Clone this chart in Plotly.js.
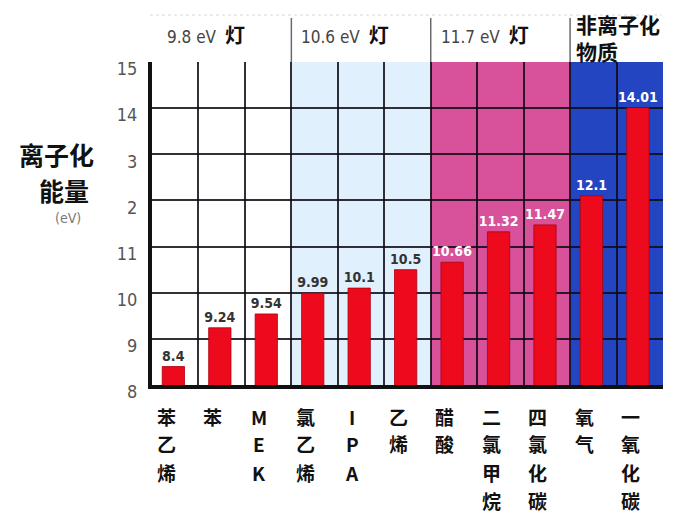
<!DOCTYPE html>
<html>
<head>
<meta charset="utf-8">
<script src="https://cdn.plot.ly/plotly-3.0.1.min.js"></script>
<style>html,body{margin:0;padding:0;background:#fff;}#chart{width:677px;height:515px;}</style>
</head>
<body>
<div id="chart"></div>
<script>
// ---- data ----
const categories = ["苯乙烯", "苯", "MEK", "氯乙烯", "IPA", "乙烯", "醋酸", "二氯甲烷", "四氯化碳", "氧气", "一氧化碳"];
const energies = [8.4, 9.24, 9.54, 9.99, 10.1, 10.5, 10.66, 11.32, 11.47, 12.1, 14.01];
const tickValues = [8, 9, 10, 11, 12, 13, 14, 15];
const tickLabels = ["8", "9", "10", "11", "2", "3", "14", "15"];
const groupLabels = ["9.8 eV", "10.6 eV", "11.7 eV"];
const groupSuffix = "灯";
const groupStart = [0, 3, 6];      // first category index of each lamp group
const groupEnd = [2, 5, 8];        // last category index of each lamp group
const nonIonLabel = ["非离子化", "物质"];
const nonIonStart = 9;
const yTitleLines = ["离子化", "能量"];
const yUnit = "(eV)";

// ---- styling ----
const groupFill = ["#ffffff", "#e0f0fc", "#d8529b", "#2345c2"];
const labelColor = energies.map((v, i) => i < 6 ? "#333333" : "#ffffff");

// plot geometry helpers (pixel -> paper)
const L = 152, R = 13.5, T = 62, B = 130, W = 677, H = 515;
const pw = W - L - R, ph = H - T - B;
const px2x = p => (p - L) / pw;
const py2y = p => (H - B - p) / ph;

const shapes = [];
// background bands
const bandStarts = [...groupStart, nonIonStart];
const bandEnds = [...groupEnd, categories.length - 1];
bandStarts.forEach((s, k) => {
  shapes.push({type: "rect", layer: "below", xref: "x", yref: "paper",
    x0: s - 0.5, x1: bandEnds[k] + 0.5, y0: 0, y1: 1,
    fillcolor: groupFill[k], line: {width: 0}});
});
// header dividers
[3, 6, 9].forEach(s => {
  shapes.push({type: "line", xref: "x", yref: "paper", x0: s - 0.5, x1: s - 0.5,
    y0: 1, y1: py2y(18), line: {color: "#6a6a6a", width: 1.5}});
});
// faint dotted top line
shapes.push({type: "line", xref: "paper", yref: "paper", x0: px2x(150), x1: px2x(662),
  y0: py2y(15), y1: py2y(15), line: {color: "#d8d8d8", width: 1, dash: "dot"}});

const annotations = [];
// group headers
groupLabels.forEach((g, k) => {
  annotations.push({xref: "x", yref: "paper", x: groupStart[k] - 0.5, xshift: [13, 8, 8][k],
    y: py2y(35), xanchor: "left", yanchor: "middle", showarrow: false,
    text: "<span style='font-family:DejaVu Sans Condensed;font-size:17px;color:#444'>" + g +
      "</span>  <b>" + groupSuffix + "</b>",
    font: {family: "Noto Sans CJK SC", size: 20, color: "#111"}});
});
annotations.push({xref: "x", yref: "paper", x: nonIonStart - 0.5, xshift: 4, y: py2y(37),
  xanchor: "left", yanchor: "middle", showarrow: false, align: "left",
  text: "<b>" + nonIonLabel.join("<br>") + "</b>",
  font: {family: "Noto Sans CJK SC", size: 21, color: "#111"}});
// y title
annotations.push({xref: "paper", yref: "paper", x: px2x(56), y: py2y(154), xanchor: "center", yanchor: "middle",
  showarrow: false, text: "<b>" + yTitleLines[0] + "</b>", font: {family: "Noto Sans CJK SC", size: 25, color: "#111"}});
annotations.push({xref: "paper", yref: "paper", x: px2x(64), y: py2y(190), xanchor: "center", yanchor: "middle",
  showarrow: false, text: "<b>" + yTitleLines[1] + "</b>", font: {family: "Noto Sans CJK SC", size: 25, color: "#111"}});
annotations.push({xref: "paper", yref: "paper", x: px2x(68), y: py2y(218), xanchor: "center", yanchor: "middle",
  showarrow: false, text: yUnit, font: {family: "DejaVu Sans Condensed", size: 14, color: "#777"}});
// vertical category labels
const rowY = [416, 444, 472, 500];
categories.forEach((c, i) => {
  Array.from(c).forEach((ch, r) => {
    annotations.push({xref: "x", yref: "paper", x: c, xshift: -9, y: py2y(rowY[r]),
      xanchor: "center", yanchor: "middle", showarrow: false, borderpad: 0, text: "<b>" + ch + "</b>",
      font: {family: "Noto Sans CJK SC", size: 19, color: "#111"}});
  });
});

const trace = {
  type: "bar", x: categories, y: energies, width: 0.48, offset: -0.28,
  marker: {color: "#ec0a1c", line: {color: "#b0000e", width: 0.8}},
  text: energies.map(v => String(v)), textposition: "outside", cliponaxis: false,
  constraintext: "none",
  textfont: {family: "DejaVu Sans Condensed", size: 14, color: labelColor, weight: "bold"},
  hoverinfo: "skip"
};

const layout = {
  width: W, height: H,
  margin: {l: L, r: R, t: T, b: B, pad: 0},
  paper_bgcolor: "#ffffff", plot_bgcolor: "#ffffff",
  showlegend: false, bargap: 0.5,
  xaxis: {type: "category", range: [-0.5, categories.length - 0.5], tickson: "boundaries",
    showgrid: true, gridcolor: "rgba(15,10,20,0.85)", gridwidth: 2,
    showticklabels: false, ticks: "", showline: true, linecolor: "#111", linewidth: 4,
    fixedrange: true},
  yaxis: {range: [8, 15], tickvals: tickValues, ticktext: tickLabels,
    showgrid: true, gridcolor: "rgba(15,10,20,0.85)", gridwidth: 2, zeroline: false,
    showline: true, linecolor: "#111", linewidth: 4, ticks: "",
    ticklabelstandoff: 7, ticklabelshift: 7,
    tickfont: {family: "DejaVu Sans Condensed", size: 18, color: "#555"}, fixedrange: true},
  shapes: shapes, annotations: annotations
};

Plotly.newPlot("chart", [trace], layout, {staticPlot: true, displayModeBar: false});
</script>
</body>
</html>
